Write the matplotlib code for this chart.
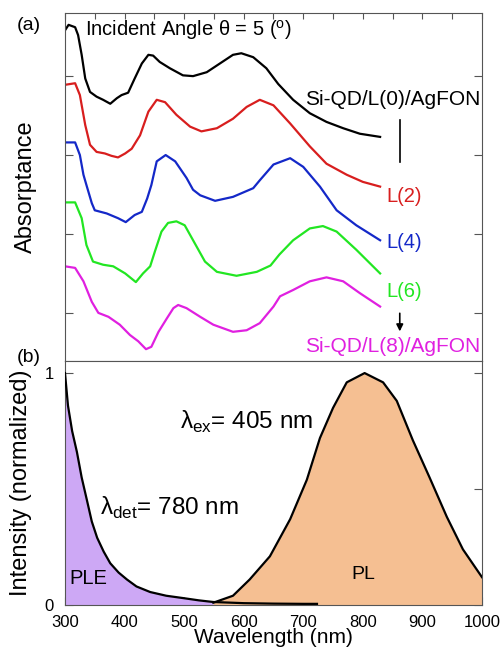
import numpy as np
import matplotlib
matplotlib.use("Agg")
import matplotlib.pyplot as plt

plt.rcParams['font.family'] = ['Liberation Sans', 'DejaVu Sans']
plt.rcParams['mathtext.fontset'] = 'custom'
plt.rcParams['mathtext.rm'] = 'Liberation Sans'

# ---- panel (a): absorptance spectra (offset, arb. units) ----
wl_l0 = [300, 306, 317, 322, 328, 334, 342, 353, 364, 376, 387, 395, 406, 417, 429, 440, 448,
         459, 476, 498, 515, 538, 560, 582, 596, 616, 638, 658, 683, 711, 739, 767, 795, 829]
ab_l0 = [3.58, 3.65, 3.62, 3.52, 3.27, 2.97, 2.80, 2.74, 2.70, 2.65, 2.72, 2.76, 2.79, 2.97,
         3.16, 3.27, 3.26, 3.18, 3.10, 3.01, 3.00, 3.05, 3.16, 3.27, 3.29, 3.24, 3.10, 2.90,
         2.70, 2.53, 2.42, 2.34, 2.27, 2.23]

wl_l2 = [300, 317, 325, 334, 342, 353, 367, 378, 389, 401, 412, 426, 440, 454, 468, 487, 510,
         529, 555, 582, 605, 627, 650, 678, 711, 739, 773, 800, 829]
ab_l2 = [2.89, 2.91, 2.76, 2.38, 2.13, 2.04, 2.02, 1.99, 1.97, 2.02, 2.08, 2.25, 2.55, 2.70,
         2.67, 2.51, 2.36, 2.30, 2.34, 2.46, 2.61, 2.70, 2.63, 2.40, 2.11, 1.89, 1.75, 1.66, 1.60]

wl_l4 = [300, 317, 325, 331, 336, 345, 350, 370, 389, 402, 417, 429, 438, 445, 454, 469, 485,
         504, 515, 527, 552, 582, 616, 627, 650, 678, 700, 728, 756, 789, 829]
ab_l4 = [2.16, 2.16, 2.00, 1.75, 1.62, 1.39, 1.30, 1.26, 1.20, 1.15, 1.24, 1.28, 1.45, 1.62,
         1.92, 2.00, 1.92, 1.71, 1.56, 1.49, 1.42, 1.47, 1.58, 1.68, 1.88, 1.96, 1.85, 1.60,
         1.30, 1.11, 0.92]

wl_l6 = [300, 317, 328, 336, 347, 364, 381, 401, 419, 431, 443, 451, 462, 473, 487, 501, 518,
         535, 555, 588, 622, 645, 660, 683, 711, 733, 756, 789, 829]
ab_l6 = [1.40, 1.40, 1.20, 0.86, 0.65, 0.61, 0.59, 0.50, 0.39, 0.50, 0.59, 0.78, 1.03, 1.14,
         1.16, 1.11, 0.88, 0.65, 0.52, 0.47, 0.52, 0.60, 0.74, 0.92, 1.07, 1.10, 1.03, 0.80, 0.50]

wl_l8 = [300, 317, 331, 345, 356, 373, 392, 409, 423, 436, 445, 457, 471, 482, 490, 504, 527,
         549, 582, 605, 627, 650, 661, 683, 711, 739, 767, 795, 829]
ab_l8 = [0.59, 0.57, 0.40, 0.14, 0.00, -0.05, -0.15, -0.28, -0.36, -0.46, -0.43, -0.24, -0.07,
         0.06, 0.10, 0.06, -0.05, -0.15, -0.24, -0.22, -0.13, 0.08, 0.21, 0.29, 0.40, 0.45,
         0.40, 0.25, 0.08]

# ---- panel (b): PLE and PL ----
wl_ple = [300, 305, 312, 320, 328, 337, 345, 354, 365, 376, 390, 404, 420, 443, 470, 498, 525,
          549, 600, 650, 700, 723]
ple = [1.0, 0.86, 0.75, 0.66, 0.55, 0.45, 0.36, 0.29, 0.23, 0.18, 0.14, 0.11, 0.08, 0.056,
       0.04, 0.03, 0.02, 0.013, 0.008, 0.006, 0.005, 0.005]

wl_pl = [549, 582, 610, 644, 678, 706, 728, 750, 773, 803, 834, 857, 884, 912, 941, 968, 1000]
pl = [0.01, 0.04, 0.11, 0.21, 0.37, 0.54, 0.72, 0.85, 0.96, 1.0, 0.96, 0.88, 0.71, 0.55, 0.38,
      0.24, 0.12]

fig = plt.figure(figsize=(5.03, 6.5), dpi=100)
ax1 = fig.add_axes([0.1292, 0.4446, 0.829, 0.5354])
ax2 = fig.add_axes([0.1292, 0.0692, 0.829, 0.3754])

spine_col = '#555555'

# top panel
ax1.plot(wl_l0, ab_l0, color='black', lw=1.6)
ax1.plot(wl_l2, ab_l2, color='#d81e1e', lw=1.6)
ax1.plot(wl_l4, ab_l4, color='#1428c8', lw=1.6)
ax1.plot(wl_l6, ab_l6, color='#22e622', lw=1.6)
ax1.plot(wl_l8, ab_l8, color='#e020e0', lw=1.6)
ax1.set_xlim(300, 1000)
ax1.set_ylim(-0.61, 3.80)
ax1.set_xticks(np.arange(300, 1001, 50))
ax1.set_yticks([0, 1, 2, 3])
ax1.tick_params(axis='x', which='both', direction='in', top=True, bottom=False,
                labelbottom=False, length=4, color=spine_col)
ax1.tick_params(axis='y', direction='in', left=True, right=True, labelleft=False,
                length=6, color=spine_col)
for s in ax1.spines.values():
    s.set_color(spine_col)
ax1.set_ylabel('Absorptance', fontsize=17, labelpad=20)

ax1.text(333, 3.58, 'Incident Angle θ = 5 ($^{\\mathrm{o}}$)', fontsize=14.5, va='center')
ax1.text(703, 2.70, 'Si-QD/L(0)/AgFON', fontsize=15, va='center')
ax1.plot([862, 862], [2.44, 1.91], color='black', lw=1.2)
ax1.text(840, 1.47, 'L(2)', fontsize=14.5, va='center', color='#d81e1e')
ax1.text(840, 0.89, 'L(4)', fontsize=14.5, va='center', color='#1428c8')
ax1.text(840, 0.27, 'L(6)', fontsize=14.5, va='center', color='#22e622')
ax1.annotate('', xy=(862, -0.27), xytext=(862, 0.03),
             arrowprops=dict(arrowstyle='-|>', color='black', lw=1.2, mutation_scale=10))
ax1.text(703, -0.43, 'Si-QD/L(8)/AgFON', fontsize=15, va='center', color='#e020e0')

# bottom panel
ple_a = np.array(ple)
wl_ple_a = np.array(wl_ple)
m = wl_ple_a <= 550
ax2.fill_between(wl_ple_a[m], 0, ple_a[m], color='#cda8f5', lw=0, zorder=1)
ax2.fill_between(wl_pl, 0, pl, color='#f5bf92', lw=0, zorder=1)
ax2.plot(wl_ple, ple, color='black', lw=1.6, zorder=3)
ax2.plot(wl_pl, pl, color='black', lw=1.6, zorder=3)
ax2.set_xlim(300, 1000)
ax2.set_ylim(0, 1.052)
ax2.set_xticks(np.arange(300, 1001, 100))
ax2.set_yticks([0, 0.5, 1])
ax2.set_yticklabels(['0', '', '1'])
ax2.set_axisbelow(True)
ax2.tick_params(axis='both', direction='in', left=True, right=True, length=6,
                color=spine_col, labelsize=12)
ax2.tick_params(axis='x', pad=7)
ax2.tick_params(axis='y', pad=8)
for s in ax2.spines.values():
    s.set_color(spine_col)
ax2.set_xlabel('Wavelength (nm)', fontsize=15, labelpad=-1)
ax2.set_ylabel('Intensity (normalized)', fontsize=17, labelpad=9)

ax2.text(493, 0.79, 'λ$_{\\mathrm{ex}}$= 405 nm', fontsize=17.5, va='center')
ax2.text(359, 0.42, 'λ$_{\\mathrm{det}}$= 780 nm', fontsize=17.5, va='center')
ax2.text(308, 0.116, 'PLE', fontsize=14.5, va='center')
ax2.text(781, 0.13, 'PL', fontsize=14, va='center')

fig.text(17 / 503, 1 - 25 / 650, '(a)', fontsize=14, va='center')
fig.text(17 / 503, 1 - 357 / 650, '(b)', fontsize=14, va='center')

fig.savefig('out.png', dpi=100)
